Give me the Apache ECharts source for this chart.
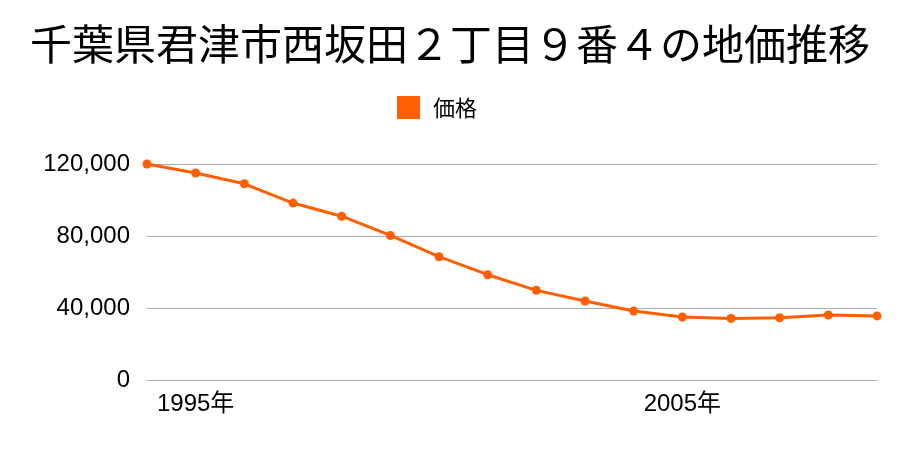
<!DOCTYPE html>
<html><head><meta charset="utf-8">
<script src="https://cdn.jsdelivr.net/npm/echarts@6/dist/echarts.min.js"></script>
<style>html,body{margin:0;padding:0;background:#fff}#c{width:900px;height:450px}</style>
</head><body><div id="c"></div>
<script>
const years = ['1994','1995','1996','1997','1998','1999','2000','2001','2002','2003','2004','2005','2006','2007','2008','2009'];
const prices = [120000,115000,109000,98300,91000,80300,68500,58500,49800,43900,38300,35000,34200,34600,36100,35600];
const shownYears = ['1995','2005'];
const yTicks = [0,40000,80000,120000];
const CJK = '"Noto Sans CJK JP", sans-serif';
const LAT = '"Liberation Sans", "Noto Sans CJK JP", sans-serif';
const chart = echarts.init(document.getElementById('c'));
chart.setOption({
  backgroundColor:'#fff',
  animation:false,
  title:{text:'千葉県君津市西坂田２丁目９番４の地価推移',left:'center',top:18,textStyle:{fontFamily:CJK,fontSize:42,fontWeight:'normal',color:'#000'}},
  legend:{data:['価格'],top:96,left:397,itemWidth:23,itemHeight:23,itemGap:10,icon:'rect',padding:0,textStyle:{fontFamily:CJK,fontSize:22,color:'#000',padding:[0,0,0,8]}},
  grid:{left:147,right:23,top:164,bottom:70,containLabel:false},
  xAxis:{type:'category',data:years,boundaryGap:false,
    axisLine:{show:true,lineStyle:{color:'#aaa'}},axisTick:{show:false},
    axisLabel:{interval:(i,v)=>shownYears.includes(v),formatter:v=>v+'年',margin:12,fontFamily:LAT,fontSize:24,color:'#000'}},
  yAxis:{type:'value',min:yTicks[0],max:yTicks[yTicks.length-1],interval:40000,
    axisLine:{show:false},axisTick:{show:false},
    splitLine:{lineStyle:{color:'#aaa'}},
    axisLabel:{margin:17,fontFamily:LAT,fontSize:24,color:'#000',padding:[6,0,0,0],formatter:v=>v.toLocaleString('en-US')}},
  series:[{name:'価格',type:'line',data:prices,color:'#ff5f00',symbol:'circle',symbolSize:9,lineStyle:{width:3,color:'#ff5f00'},itemStyle:{color:'#ff5f00'}}]
});
</script></body></html>
